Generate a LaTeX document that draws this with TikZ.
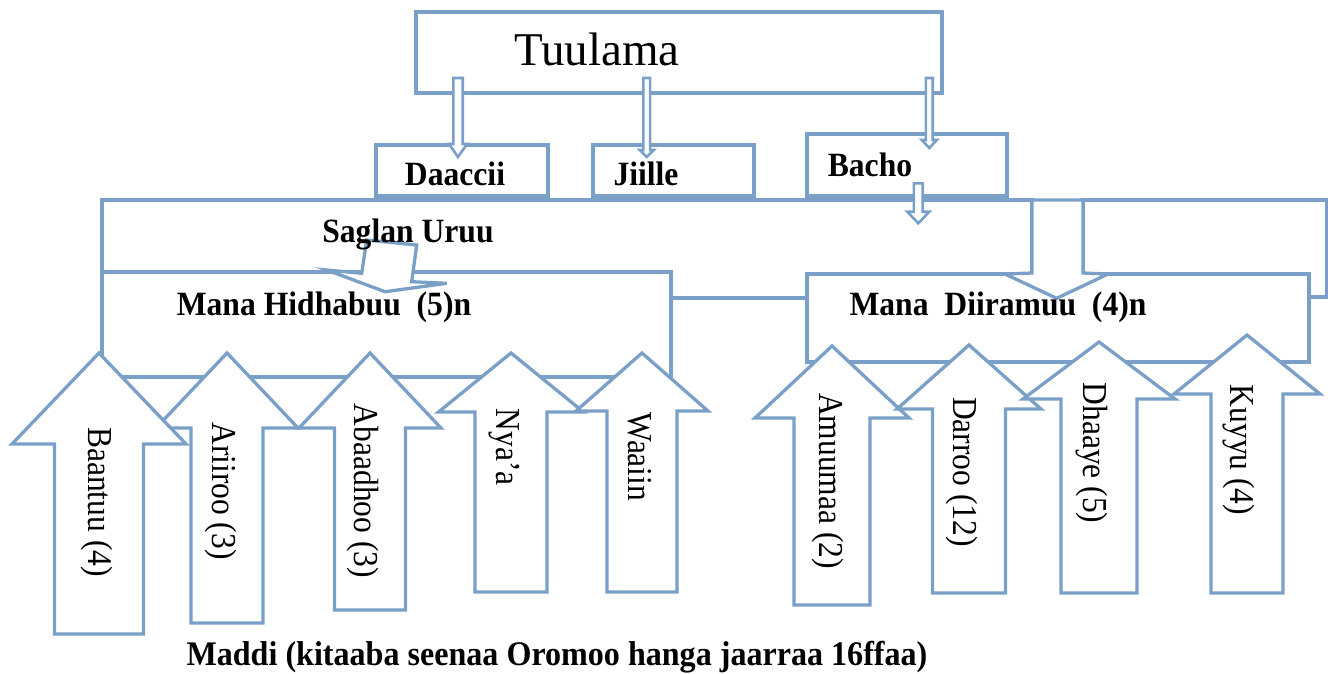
\documentclass[tikz,border=0pt]{standalone}
\usepackage{fontspec}
\setmainfont{Liberation Serif}
\definecolor{lc}{RGB}{122,160,200}
\tikzset{
  box/.style={draw=lc, line width=3.3pt, fill=white, inner sep=0pt, outer sep=0pt},
  blk/.style={draw=lc, line width=3.3pt, fill=white, line join=miter},
  thinarr/.style={draw=lc, line width=2.6pt, fill=white, line join=miter},
  lbl/.style={font=\bfseries\fontsize{34}{34}\selectfont, inner sep=0pt, anchor=base, xscale=0.93},
  vlbl/.style={font=\fontsize{35}{35}\selectfont, inner sep=0pt, anchor=base, rotate=-90, xscale=0.9},
}
% box: name, x1, y1, x2, y2
\newcommand\mkbox[5]{\node[box, anchor=north west, minimum width={(#4-#2)*1pt}, minimum height={(#5-#3)*1pt}] (#1) at (#2,#3) {};}
% up block arrow: cx, tip, headbase, halfwing, halfshaft, bottom
\newcommand\blockup[6]{\draw[blk] (#1-#5,#6) -- (#1-#5,#3) -- (#1-#4,#3) -- (#1,#2) -- (#1+#4,#3) -- (#1+#5,#3) -- (#1+#5,#6) -- cycle;}
% down thin arrow: cx, top, headbase, tip, halfwing, halfshaft
\newcommand\thindown[6]{\draw[thinarr] (#1-#6,#2) -- (#1-#6,#3) -- (#1-#5,#3) -- (#1,#4) -- (#1+#5,#3) -- (#1+#6,#3) -- (#1+#6,#2) -- cycle;}
\begin{document}
\begin{tikzpicture}[x=1pt,y=-1pt]
\useasboundingbox (0,0) rectangle (1328,673);
% top level
\mkbox{tuulamabox}{416}{12}{942}{93}
\mkbox{daacciibox}{376}{145}{548}{196}
\mkbox{jiillebox}{593}{145}{754}{196}
\mkbox{bachobox}{807}{134}{1007}{196}
% second level
\mkbox{saglanbox}{102}{200}{1032}{298}
\mkbox{rightbox}{1083}{200}{1327}{297}
\mkbox{mhbox}{102}{272}{671}{377}
\mkbox{mdbox}{807}{274}{1309}{362}
% block arrow between saglan and right box
\draw[blk] (1032,200) -- (1083,200) -- (1083,273) -- (1108,274) -- (1056.7,298.3) -- (1005,274) -- (1032,273) -- cycle;
% tilted arrow from Saglan Uruu into Mana Hidhabuu
\draw[blk] (366.7,240) -- (416.7,245) -- (411.7,281.7) -- (446.7,283.3) -- (385,291.7) -- (326.7,270) -- (361.7,273.3) -- cycle;
% thin arrows
\thindown{458}{78}{144}{157}{9}{4.7}
\thindown{646.7}{78}{150}{157}{7}{3.4}
\thindown{929.3}{78}{140}{148}{7.5}{3.4}
\thindown{918.3}{183.3}{211.7}{223.3}{11}{4.4}
% up arrows, left group
\blockup{227}{353}{428}{71}{36}{623}
\blockup{99}{353}{444}{87}{44.5}{634}
\blockup{370}{353}{428}{71}{35.5}{610}
\blockup{511}{353}{412}{72.5}{36}{592}
\blockup{642}{353}{411}{66}{35}{592}
% up arrows, right group
\blockup{832}{346}{418}{77}{38}{605}
\blockup{969}{345}{409}{72}{36.5}{593}
\blockup{1099}{342}{399}{76}{38}{593}
\blockup{1247}{335}{394}{73}{36}{593}
% texts
\node[font=\fontsize{47}{47}\selectfont, inner sep=0pt, anchor=base] (tuulama) at (597,65) {Tuulama};
\node[lbl] (daaccii) at (455,185) {Daaccii};
\node[lbl] (jiille) at (646,185) {Jiille};
\node[lbl] (bacho) at (870,176) {Bacho};
\node[lbl] (saglan) at (408,242) {Saglan Uruu};
\node[lbl] (mh) at (324,315) {Mana Hidhabuu~ (5)n};
\node[lbl] (md) at (998,315) {Mana~ Diiramuu~ (4)n};
\node[lbl, font=\bfseries\fontsize{34.5}{34.5}\selectfont] (maddi) at (557,665) {Maddi (kitaaba seenaa Oromoo hanga jaarraa 16ffaa)};
\node[vlbl] (baantuu) at (88,502) {Baantuu (4)};
\node[vlbl] (ariiroo) at (212,491) {Ariiroo (3)};
\node[vlbl] (abaadhoo) at (354,491) {Abaadhoo (3)};
\node[vlbl] (nyaa) at (496,447) {Nya’a};
\node[vlbl] (waaiin) at (628,457) {Waaiin};
\node[vlbl] (amuumaa) at (819,481) {Amuumaa (2)};
\node[vlbl] (darroo) at (953,472) {Darroo (12)};
\node[vlbl] (dhaaye) at (1083,453) {Dhaaye (5)};
\node[vlbl] (kuyyu) at (1230,450) {Kuyyu (4)};
\end{tikzpicture}
\end{document}
